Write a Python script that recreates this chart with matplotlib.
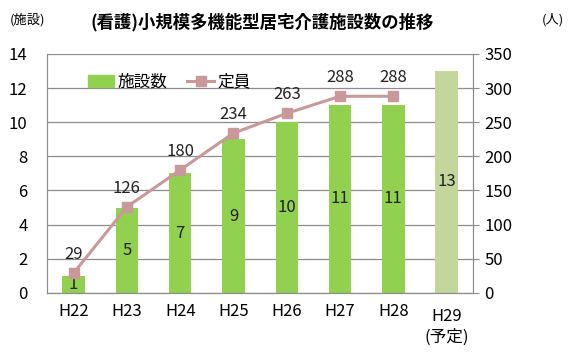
import matplotlib
matplotlib.use("Agg")
import matplotlib.pyplot as plt
from matplotlib.patches import Patch
from matplotlib.lines import Line2D

plt.rcParams['font.family'] = ['Noto Sans CJK JP', 'DejaVu Sans']

categories = ['H22', 'H23', 'H24', 'H25', 'H26', 'H27', 'H28', 'H29\n(予定)']
facilities = [1, 5, 7, 9, 10, 11, 11, 13]
capacity = [29, 126, 180, 234, 263, 288, 288]
left_ticks = [0, 2, 4, 6, 8, 10, 12, 14]
right_ticks = [0, 50, 100, 150, 200, 250, 300, 350]

bar_color = '#92D050'
plan_color = '#C3D69B'
line_color = '#C9989A'
grid_color = '#8C8C8C'

fig = plt.figure(figsize=(5.8, 3.62), dpi=100)
ax = fig.add_axes([0.081, 0.191, 0.735, 0.66])
ax2 = ax.twinx()

x = list(range(len(categories)))
colors = [bar_color] * (len(categories) - 1) + [plan_color]
ax.bar(x, facilities, width=0.42, color=colors, zorder=2)
for xi, v in zip(x, facilities):
    ax.text(xi, v / 2, str(v), ha='center', va='center', fontsize=12, color='#222222', zorder=5)

ax.set_ylim(0, 14)
ax.set_xlim(-0.5, len(categories) - 0.5)
ax.set_yticks(left_ticks)
ax.yaxis.grid(True, color=grid_color, linewidth=0.9, zorder=0)
ax.set_axisbelow(True)
ax.set_xticks(x)
# single-line labels as tick labels; the two-line last label is placed slightly lower
ax.set_xticklabels(categories[:-1] + [''], fontsize=12, va='top')
ax.annotate(categories[-1], xy=(x[-1], 0), xycoords=('data', 'axes fraction'),
            xytext=(0, -11), textcoords='offset points', ha='center', va='top',
            fontsize=12, linespacing=1.3, annotation_clip=False)
ax.tick_params(axis='x', length=0, pad=7)
ax.tick_params(axis='y', length=0, pad=14, labelsize=12)

ax2.plot(x[:len(capacity)], capacity, color=line_color, linewidth=2.2, marker='s',
         markersize=7, zorder=4)
for xi, v in zip(x, capacity):
    ax2.text(xi, v + 15, str(v), ha='center', va='bottom', fontsize=12, color='#222222')
ax2.set_ylim(0, 350)
ax2.set_yticks(right_ticks)
ax2.tick_params(axis='y', length=4, color=grid_color, labelsize=12, pad=4)

for a in (ax, ax2):
    a.spines['top'].set_visible(False)
    for s in ('left', 'right', 'bottom'):
        a.spines[s].set_color(grid_color)
ax2.set_zorder(ax.get_zorder() + 1)
ax2.patch.set_visible(False)

handles = [Patch(color=bar_color), Line2D([0], [0], color=line_color, lw=2.2, marker='s', markersize=7)]
leg = ax.legend(handles, ['施設数', '定員'], loc='upper left', bbox_to_anchor=(0.06, 0.98),
                ncol=2, frameon=False, fontsize=12, handlelength=1.6, handletextpad=0.2,
                columnspacing=1.2)

fig.text(0.452, 0.94, '(看護)小規模多機能型居宅介護施設数の推移', ha='center', va='center',
         fontsize=12.5, fontweight='bold')
fig.text(0.047, 0.945, '(施設)', ha='center', va='center', fontsize=9.5)
fig.text(0.953, 0.945, '(人)', ha='center', va='center', fontsize=9.5)

fig.savefig('out.png', dpi=100)
